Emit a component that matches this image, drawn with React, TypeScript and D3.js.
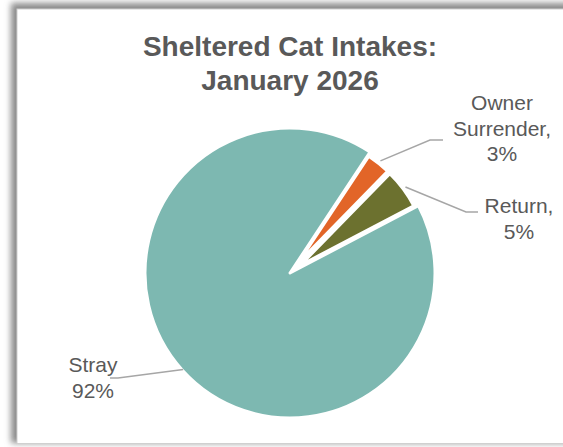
import * as React from 'react';
import {useEffect, useRef} from 'react';
import * as d3 from 'd3';

// Values (percent of intakes)
const categories = ['Owner Surrender', 'Return', 'Stray'];
const values = [3, 5, 92];
const labelLines = [['Owner', 'Surrender,', '3%'], ['Return,', '5%'], ['Stray', '92%']];
const sliceColors = ['#E26528', '#6C712F', '#7DB8B1'];
const exploded = [true, true, false];

const titleLines = ['Sheltered Cat Intakes:', 'January 2026'];

// label placement relative to the pie centre: text x, first baseline, leader end, elbow run
const labelLayout = [
  {tx: 212, ty: -163, ex: 153, ey: -133, run: -13},
  {tx: 229, ty: -60, ex: 188, ey: -61, run: -12},
  {tx: -197, ty: 99, ex: -180, ey: 105, run: 8},
];

const W = 563;
const H = 447;

export default function App() {
  const ref = useRef<SVGSVGElement>(null);

  useEffect(() => {
    const svg = d3.select(ref.current);
    svg.selectAll('*').remove();

    const cx = 290;
    const cy = 273;
    const r = 145;

    const defs = svg.append('defs');
    defs.append('filter')
      .attr('id', 'shadow')
      .attr('x', '-10%').attr('y', '-10%').attr('width', '120%').attr('height', '120%')
      .append('feGaussianBlur')
      .attr('stdDeviation', 3);

    // chart area with shadow
    svg.append('rect')
      .attr('x', 11).attr('y', 3).attr('width', 600).attr('height', 440)
      .attr('fill', '#8a8a8a')
      .attr('filter', 'url(#shadow)');
    svg.append('rect')
      .attr('x', 17).attr('y', 9).attr('width', 600).attr('height', 434.5)
      .attr('fill', '#fff')
      .attr('stroke', '#d0d0d0')
      .attr('stroke-width', 1);

    svg.append('g')
      .attr('font-family', '"Liberation Sans", Arial, sans-serif')
      .attr('font-weight', 'bold')
      .attr('font-size', 28)
      .attr('fill', '#595959')
      .attr('text-anchor', 'middle')
      .selectAll('text')
      .data(titleLines)
      .join('text')
      .attr('x', cx)
      .attr('y', (d, i) => 56 + i * 34)
      .text(d => d);

    const a0 = (33.5 * Math.PI) / 180;
    const pie = d3.pie<number>().sort(null).startAngle(a0).endAngle(a0 + 2 * Math.PI);
    const arcs = pie(values);

    const bigArc = d3.arc<d3.PieArcDatum<number>>().innerRadius(0).outerRadius(r);
    const smallArc = d3.arc<d3.PieArcDatum<number>>().innerRadius(0).outerRadius(128);

    const g = svg.append('g').attr('transform', `translate(${cx},${cy})`);

    g.selectAll('path')
      .data(arcs)
      .join('path')
      .attr('d', (d, i) => (exploded[i] ? smallArc(d) : bigArc(d)) as string)
      .attr('transform', (d, i) => {
        if (!exploded[i]) return null;
        const m = (d.startAngle + d.endAngle) / 2;
        return `translate(${13 * Math.sin(m)},${-13 * Math.cos(m)})`;
      })
      .attr('fill', (d, i) => sliceColors[i])
      .attr('stroke', '#fff')
      .attr('stroke-width', 3)
      .attr('stroke-linejoin', 'round');

    // leader lines
    g.selectAll('path.leader')
      .data(arcs)
      .join('path')
      .attr('class', 'leader')
      .attr('d', (d, i) => {
        const m = (d.startAngle + d.endAngle) / 2;
        const L = labelLayout[i];
        const p = d3.path();
        p.moveTo(144 * Math.sin(m), -144 * Math.cos(m));
        p.lineTo(L.ex + L.run, L.ey);
        p.lineTo(L.ex, L.ey);
        return p.toString();
      })
      .attr('fill', 'none')
      .attr('stroke', '#a6a6a6')
      .attr('stroke-width', 1.5);

    const labels = g.append('g')
      .attr('font-family', '"Liberation Sans", Arial, sans-serif')
      .attr('font-size', 21)
      .attr('fill', '#595959')
      .attr('text-anchor', 'middle')
      .selectAll('text')
      .data(categories)
      .join('text')
      .attr('x', (d, i) => labelLayout[i].tx)
      .attr('y', (d, i) => labelLayout[i].ty);

    labels.selectAll('tspan')
      .data((d, i) => labelLines[i].map(t => ({t, x: labelLayout[i].tx})))
      .join('tspan')
      .attr('x', d => d.x)
      .attr('dy', (d, j) => (j === 0 ? 0 : 25.5))
      .text(d => d.t);
  }, []);

  return (
    <svg
      ref={ref}
      width={W}
      height={H}
      style={{position: 'absolute', left: 0, top: 0, background: '#fff'}}
    />
  );
}
